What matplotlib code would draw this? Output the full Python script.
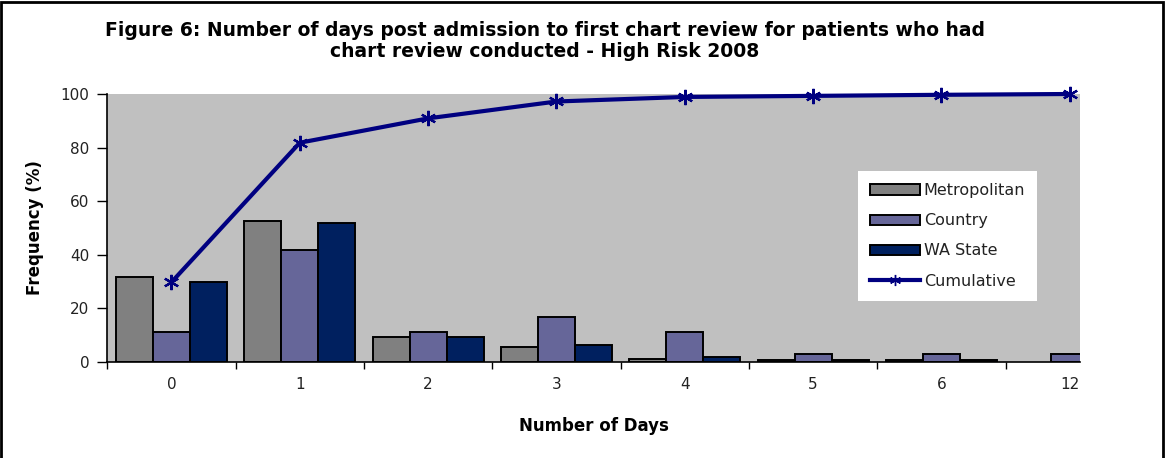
import matplotlib
matplotlib.use("Agg")
import matplotlib.pyplot as plt
import numpy as np
from matplotlib.patches import Rectangle
from matplotlib.lines import Line2D

days = ["0", "1", "2", "3", "4", "5", "6", "12"]
metropolitan = [31.8, 52.6, 9.1, 5.6, 1.0, 0.5, 0.5, np.nan]
country = [11.2, 41.7, 11.2, 16.7, 11.2, 2.8, 2.8, 2.8]
wa_state = [29.9, 51.7, 9.1, 6.2, 1.9, 0.5, 0.5, 0.0]
cumulative = [29.7, 81.8, 90.9, 97.2, 98.9, 99.3, 99.7, 100.0]

c_metro = "#808080"
c_country = "#666699"
c_wa = "#00205F"
c_cum = "#000080"

fig = plt.figure(figsize=(11.65, 4.58), dpi=100)
ax = fig.add_axes([107.3 / 1165, 96.3 / 458, 972.7 / 1165, 267.7 / 458])
ax.set_facecolor("#C0C0C0")

x = np.arange(len(days))
w = 0.288
ax.bar(x - w, metropolitan, w, color=c_metro, edgecolor="black", linewidth=1.4, zorder=2)
ax.bar(x, country, w, color=c_country, edgecolor="black", linewidth=1.4, zorder=2)
ax.bar(x + w, wa_state, w, color=c_wa, edgecolor="black", linewidth=1.4, zorder=2)
ax.plot(x, cumulative, color=c_cum, linewidth=3, marker=(6, 2, 0), markersize=11,
        markeredgewidth=1.6, markeredgecolor=c_cum, zorder=3, clip_on=False)

# the category axis runs a little past the last label, then is cut off
ax.set_xlim(-0.5, 7.08)
ax.set_ylim(0, 100)
ax.set_yticks(np.arange(0, 101, 20))
ax.set_xticks(x)
ax.set_xticklabels(days)
ax.set_xticks(np.arange(-0.5, 7.5), minor=True)
ax.tick_params(axis="x", which="major", length=0, pad=11, labelsize=11, colors="#222222")
ax.tick_params(axis="x", which="minor", length=5, width=1, direction="out")
ax.tick_params(axis="y", length=7, width=1, direction="out", labelsize=11, pad=6,
               labelcolor="#222222")
for s in ["top", "right"]:
    ax.spines[s].set_visible(False)
for s in ["left", "bottom"]:
    ax.spines[s].set_linewidth(1.2)

ax.set_xlabel("Number of Days", fontsize=12, fontweight="bold", labelpad=18)
ax.set_ylabel("Frequency (%)", fontsize=12, fontweight="bold", labelpad=12)

handles = [
    Rectangle((0, 0), 1, 1, facecolor=c_metro, edgecolor="black", linewidth=1.4),
    Rectangle((0, 0), 1, 1, facecolor=c_country, edgecolor="black", linewidth=1.4),
    Rectangle((0, 0), 1, 1, facecolor=c_wa, edgecolor="black", linewidth=1.4),
    Line2D([], [], color=c_cum, linewidth=3, marker=(6, 2, 0), markersize=8),
]
leg = ax.legend(handles, ["Metropolitan", "Country", "WA State", "Cumulative"],
                loc="upper left", bbox_to_anchor=(0.772, 0.712),
                frameon=True, fancybox=False, edgecolor="white", framealpha=1,
                fontsize=11.5, handlelength=3.1, handleheight=0.6, handletextpad=0.25,
                labelspacing=0.95, borderpad=0.75, borderaxespad=0)
leg.get_frame().set_linewidth(0)
for t in leg.get_texts():
    t.set_color("#222222")

fig.text(545 / 1165, 1 - 41 / 458,
         "Figure 6: Number of days post admission to first chart review for patients who had\nchart review conducted - High Risk 2008",
         ha="center", va="center", fontsize=13.5, fontweight="bold", linespacing=1.1)

fig.add_artist(Rectangle((0.001, -0.01), 0.997, 1.006, transform=fig.transFigure,
                         fill=False, edgecolor="black", linewidth=2))

fig.savefig("out.png", dpi=100)
